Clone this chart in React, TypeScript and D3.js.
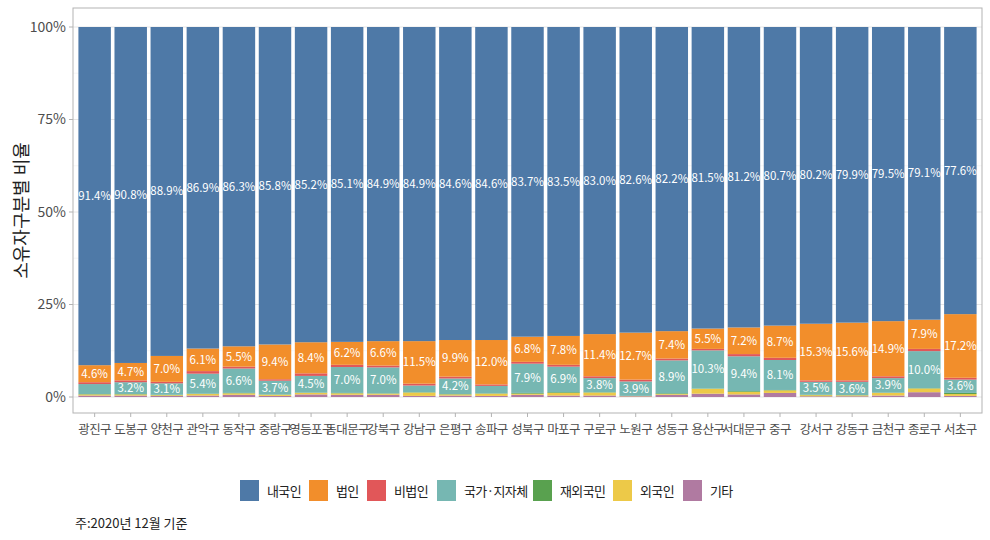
import React from "react";
import * as d3 from "d3";

const districts = ["광진구","도봉구","양천구","관악구","동작구","중랑구","영등포구","동대문구","강북구","강남구","은평구","송파구","성북구","마포구","구로구","노원구","성동구","용산구","서대문구","중구","강서구","강동구","금천구","종로구","서초구"];
const seriesNames = ["내국인","법인","비법인","국가·지자체","재외국민","외국인","기타"];
const colors = ["#4E79A7","#F28E2B","#E15759","#76B7B2","#59A14F","#EDC948","#B07AA1"];

const domestic = [91.4,90.8,88.9,86.9,86.3,85.8,85.2,85.1,84.9,84.9,84.6,84.6,83.7,83.5,83.0,82.6,82.2,81.5,81.2,80.7,80.2,79.9,79.5,79.1,77.6];
const corporate = [4.6,4.7,7.0,6.1,5.5,9.4,8.4,6.2,6.6,11.5,9.9,12.0,6.8,7.8,11.4,12.7,7.4,5.5,7.2,8.7,15.3,15.6,14.9,7.9,17.2];
const nonCorp = [0.5,0.5,0.4,0.7,0.5,0.4,0.7,0.6,0.5,0.5,0.5,0.4,0.5,0.5,0.5,0.5,0.5,0.4,0.6,0.6,0.4,0.4,0.5,0.6,0.5];
const government = [2.7,3.2,3.1,5.4,6.6,3.7,4.5,7.0,7.0,1.8,4.2,2.0,7.9,6.9,3.8,3.9,8.9,10.3,9.4,8.1,3.5,3.6,3.9,10.0,3.6];
const overseas = [0.1,0.1,0.1,0.1,0.1,0.1,0.1,0.1,0.1,0.1,0.1,0.1,0.2,0.2,0.1,0.0,0.2,0.1,0.2,0.1,0.1,0.05,0.1,0.1,0.3];
const foreigner = [0.3,0.3,0.2,0.4,0.4,0.3,0.4,0.4,0.3,0.9,0.3,0.6,0.3,0.7,0.8,0.1,0.2,1.3,0.7,0.7,0.3,0.25,0.7,1.0,0.5];
const other = [0.4,0.4,0.3,0.4,0.6,0.3,0.7,0.6,0.6,0.3,0.4,0.3,0.6,0.4,0.4,0.2,0.6,0.9,0.7,1.1,0.2,0.2,0.4,1.3,0.3];
const labeledSeries = [0, 1, 3];
const yTicks = [0, 25, 50, 75, 100];
const yMinor = [12.5, 37.5, 62.5, 87.5];
const legendX = [240, 309, 367, 437, 533, 613, 683];

const FONT = "'Noto Sans CJK KR', 'Noto Sans', sans-serif";

export default function App() {
  const W = 990, H = 540;
  const left = 73, right = 982, top = 8, bottom = 413;
  const seriesVals = [domestic, corporate, nonCorp, government, overseas, foreigner, other];
  const rows = districts.map((d, i) => {
    const o: any = { district: d };
    seriesNames.forEach((s, k) => (o[s] = seriesVals[k][i]));
    return o;
  });
  const stackOrder = [...seriesNames].reverse();
  const stacked = d3.stack<any>().keys(stackOrder)(rows);

  const unit = (right - left) / 25.2;
  const x = d3.scaleLinear().domain([0.4, 25.6]).range([left, right]);
  const bw = unit * 0.9;
  const yy = d3.scaleLinear().domain([0, 100]).range([397, 27]);

  return (
    <svg width={W} height={H} style={{ position: "absolute", left: 0, top: 0, fontFamily: FONT }}>
      <rect x={0} y={0} width={W} height={H} fill="#fff" />
      {yMinor.map((t) => (
        <line key={"m" + t} x1={left} x2={right} y1={yy(t)} y2={yy(t)} stroke="#f0f0f0" strokeWidth={0.6} />
      ))}
      {yTicks.map((t) => (
        <line key={"g" + t} x1={left} x2={right} y1={yy(t)} y2={yy(t)} stroke="#e6e6e6" strokeWidth={1} />
      ))}
      {stacked.map((layer) => {
        const k = seriesNames.indexOf(layer.key as string);
        return (
          <g key={layer.key as string} fill={colors[k]}>
            {layer.map((seg, i) => (
              <rect key={i} x={x(i + 1) - bw / 2} width={bw} y={yy(seg[1])} height={Math.max(0, yy(seg[0]) - yy(seg[1]))} />
            ))}
          </g>
        );
      })}
      {stacked.map((layer) => {
        const k = seriesNames.indexOf(layer.key as string);
        if (!labeledSeries.includes(k)) return null;
        return (
          <g key={"l" + layer.key}>
            {layer.map((seg, i) => {
              const v = seg[1] - seg[0];
              if (v < 3) return null;
              return (
                <text key={i} x={x(i + 1)} y={yy((seg[0] + seg[1]) / 2)} dy="0.35em" textAnchor="middle" fill="#fff" fontSize={11.5}>
                  {v.toFixed(1)}%
                </text>
              );
            })}
          </g>
        );
      })}
      <rect x={left} y={top} width={right - left} height={bottom - top} fill="none" stroke="#b3b3b3" strokeWidth={1} />
      {yTicks.map((t) => (
        <g key={"t" + t}>
          <line x1={left - 4} x2={left} y1={yy(t)} y2={yy(t)} stroke="#b3b3b3" />
          <text x={left - 7} y={yy(t)} dy="0.35em" textAnchor="end" fontSize={14} fill="#4d4d4d">{t}%</text>
        </g>
      ))}
      {districts.map((d, i) => (
        <g key={d}>
          <line x1={x(i + 1)} x2={x(i + 1)} y1={bottom} y2={bottom + 4} stroke="#b3b3b3" />
          <text x={x(i + 1)} y={bottom + 17} dy="0.35em" textAnchor="middle" fontSize={12.5} letterSpacing={-0.6} fill="#4d4d4d">{d}</text>
        </g>
      ))}
      <text transform={`translate(22,${(top + bottom) / 2}) rotate(-90)`} textAnchor="middle" dy="0.35em" fontSize={18} fill="#222">소유자구분별 비율</text>
      {seriesNames.map((s, k) => (
        <g key={"lg" + s}>
          <rect x={legendX[k]} y={480} width={19} height={21} fill={colors[k]} />
          <text x={legendX[k] + 27} y={491} dy="0.35em" fontSize={13} letterSpacing={-0.6} fill="#222">{s}</text>
        </g>
      ))}
      <text x={75} y={523} dy="0.35em" fontSize={13} fill="#222">주:2020년 12월 기준</text>
    </svg>
  );
}
